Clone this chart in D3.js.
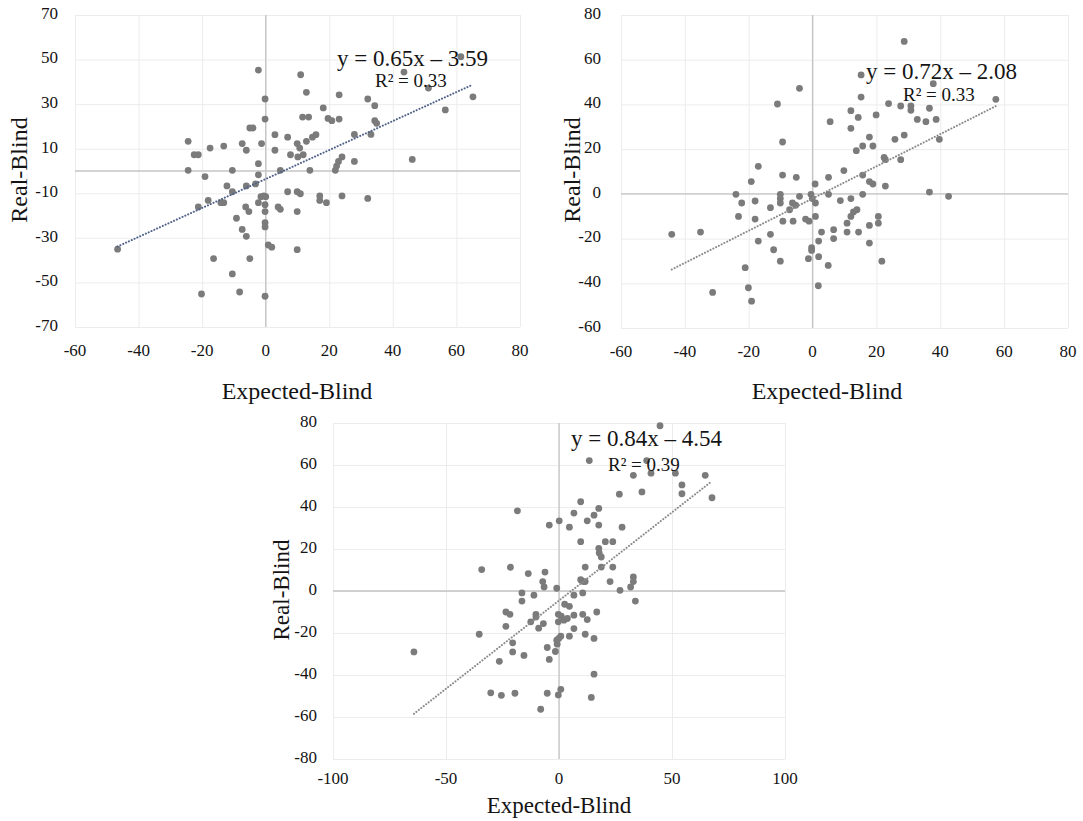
<!DOCTYPE html>
<html>
<head>
<meta charset="utf-8">
<script src="https://cdn.jsdelivr.net/npm/d3@7"></script>
<style>
  body { margin: 0; background: #fff; }
  text { font-family: "Liberation Serif", "Times New Roman", serif; fill: #141414; }
</style>
</head>
<body>
<div id="chart"></div>
<script>
// ---- data ----
// panel 1
const p1x = [-2.3, 11, 12.8, -0.2, 23.1, 18.1, -0.2, 11.6, 13.5, 19.6, 20.8, 23.1, -5, -4, 27.9, 2.9, 6.9, -24.4, -7.4, -1.3,
  -13.2, -17.5, -6.1, 2.9, 12.8, 14.7, 15.8, 9.9, 10.7, -22.5, -21.2, 7.8, 10.1, 11.8, 24, 22.9, 22.3, 27.9, -2.3, -24.4,
  -10.5, 4.6, 13.9, 21.9, -19.1, -2.3, 32.1, 34.3, 43.5, 51.2, 61.4, 56.5, 65.2, 33.1, 34.3, 34.9, 46.1, -12.2, -10.5, -6.1,
  -3.2, -1.5, -0.6, 0, -2.3, -0.2, -0.2, -21.2, -18.1, -14.1, -13.2, -6.3, -5.3, -9.2, -7.4, -6.1, -0.2, -0.2, 0.8, 1.9,
  6.9, 9.9, 10.9, 3.9, 4.6, 9.9, 9.9, 17, 17, 19.1, 24, -16.4, -5, -10.5, -20.2, -8.2, -0.2, -46.6, 32.1];
const p1y = [45.3, 43.2, 35.3, 32.3, 34.2, 28.3, 23.3, 24.2, 24.2, 23.6, 22.6, 23.3, 19.3, 19.3, 16.4, 16.3, 15.2, 13.3, 12.3, 12.3,
  11.2, 10.3, 9.3, 9.3, 13.3, 15.2, 16.3, 12.3, 10.3, 7.3, 7.3, 7.3, 6.3, 7.3, 6.3, 4.3, 2.2, 4.3, 3.3, 0.3,
  0.3, 0.3, 0.3, 0.3, -2.5, -1.7, 32.3, 29.3, 44.4, 37.2, 51.3, 27.4, 33.3, 16.4, 22.6, 21.4, 5.2, -6.7, -9.3, -6.7,
  -5.8, -11.5, -11.2, -11.5, -14.2, -15.1, -18.2, -16.1, -13.2, -14.2, -14.2, -16.1, -18.2, -21.2, -26.2, -29.3, -23.2, -25.1, -33.2, -34.2,
  -9.3, -9.3, -10.2, -16.1, -17.2, -18.2, -35.3, -11.2, -13.2, -14.2, -11.2, -39.3, -39.3, -46.2, -55.2, -54.3, -56.2, -35.1, -12.3];

// panel 2
const p2x = [-4.1, -11, -9.4, -17, -19.2, -9.4, -5.1, 0.8, 5, 9.8, 5.5, 12, 12, 14.3, 13.7, 15.2, 15.2, 28.7, 37.8, 57.4,
  23.8, 27.6, 30.8, 30.8, 36.6, 19.9, 32.8, 35.5, 38.7, 17.8, 15.7, 18.9, 25.8, 28.7, 39.7, 22.4, 22.8, 27.6, 15.7, 17.8,
  18.9, 22.8, -24, -22.2, -18, -23.2, -18, -10.1, -10.1, -10.1, -4.1, -6.3, -5.3, -7.2, -13.2, -9.3, -6.1, -2.2, -1.1, -0.5,
  -0.1, 0.9, 5, 8.7, 12, 0.9, 2.8, 1.9, -0.3, -0.3, -1.3, 1.9, 4.9, 6.6, 6.6, 10.8, 10.8, 12, 12.8, 13.9,
  14.4, -13.2, -17, -12.2, -10.1, -21.1, -20.1, -19.1, -31.3, 1.8, -44.1, -35.1, 36.6, 42.6, 15.7, 20.6, 20.6, 17.8, 21.7, 17.8];
const p2y = [47.2, 40.2, 23.2, 12.3, 5.5, 8.4, 7.4, 4.4, 7.4, 10.4, 32.3, 37.2, 29.3, 34.2, 19.3, 53.2, 43.3, 68.2, 49.3, 42.3,
  40.4, 39.3, 39.3, 37.4, 38.3, 35.3, 33.3, 32.3, 33.3, 25.4, 21.4, 21.4, 24.4, 26.3, 24.4, 16.3, 15.3, 15.3, 8.4, 5.5,
  4.4, 3.5, -0.2, -4.1, -3.2, -10.1, -11.3, -0.2, -2.1, -4.1, -1.1, -4.1, -5.1, -7.1, -6.2, -12.2, -12.2, -11.3, -12.2, -0.2,
  -2.1, -4.1, -0.2, -3, -2.1, -10.1, -17.1, -21.1, -24.1, -25.3, -29, -28.1, -32, -16, -20, -13.1, -17.1, -10.1, -8.1, -7.1,
  -17.1, -18.1, -21.1, -25, -30.1, -33, -42, -48, -44.1, -41.1, -18.1, -17.1, 0.8, -1.1, -0.2, -10.1, -13.1, -14.1, -30.1, -22];

// panel 3
const p3x = [-18.4, -4.3, 0.1, -34.2, -21.5, -13.6, -6.2, -7.2, -6.6, -1, 44.7, 13.4, 38.8, 32.9, 40.7, 51.5, 64.7, 54.4, 54.4, 67.7,
  36.7, 26.7, 9.6, 17.6, 15.5, 12.5, 17.6, 6.6, 4.6, 27.9, 9.6, 20.5, 23.8, 17.6, 17.8, 18.7, 18.7, 23.8, 11.6, 9.6,
  10.8, 11.6, 22.6, 32.9, 32.9, 31.7, 27, -16.4, -16.4, -11.1, -23.5, -21.7, -23.5, -10.2, -10.2, -12.5, -6.9, -9, -0.3, -0.3,
  -35.3, -20.5, -20.5, -15.5, -26.4, -5.2, -4.3, -1, -0.8, -1.6, -64.2, -30.2, -25.5, -19.5, -5.2, -8.1, -0.3, 10.5, 6.6, 33.8,
  2.5, 4.6, 1, 2.2, 3.7, 6.6, 10.5, 12.5, 16.7, 6.6, 4.6, 0.8, -0.1, 11.6, 15.5, 15.5, 0.8, 14.3];
const p3y = [38.2, 31.4, 33.4, 10.2, 11.3, 8.3, 9, 4.5, 1.9, 1.3, 78.7, 62.1, 62.1, 55.1, 56.1, 56.1, 55.1, 50.5, 46.3, 44.4,
  47.2, 46.1, 42.5, 39.3, 36.1, 33.4, 31.4, 37.1, 30.4, 30.4, 23.5, 23.5, 23.5, 20.3, 18.1, 16.2, 11.4, 11.4, 11.4, 5.4,
  4.5, 4.5, 4.5, 6.7, 4.5, 1.9, 0.3, -0.9, -4.8, -2, -10, -11.1, -16.8, -11.1, -12.4, -14.7, -15.5, -17.7, -11.1, -14.7,
  -20.6, -24.7, -29, -30.7, -33.5, -26.9, -32.6, -23.4, -25.3, -28.8, -29, -48.5, -49.7, -48.7, -48.7, -56.3, -49.5, -0.9, -2, -4.8,
  -6.3, -7.3, -12, -13.9, -13.1, -11.5, -11.1, -13.6, -10, -17.9, -21.5, -21.5, -22.6, -20.6, -22.6, -39.6, -46.8, -50.7];

// tick values
const ticks1x = [-60, -40, -20, 0, 20, 40, 60, 80];
const ticks1y = [-70, -50, -30, -10, 10, 30, 50, 70];
const ticks2x = [-60, -40, -20, 0, 20, 40, 60, 80];
const ticks2y = [-60, -40, -20, 0, 20, 40, 60, 80];
const ticks3x = [-100, -50, 0, 50, 100];
const ticks3y = [-80, -60, -40, -20, 0, 20, 40, 60, 80];

// trend lines: slope, intercept, r squared
const fit1 = {m: 0.65, b: -3.59, r2: "0.33"};
const fit2 = {m: 0.72, b: -2.08, r2: "0.33"};
const fit3 = {m: 0.84, b: -4.54, r2: "0.39"};

const svg = d3.select("#chart").append("svg")
    .attr("width", 1083)
    .attr("height", 821);

// panel layout (pixel boxes)
const panels = [
  {xs: p1x, ys: p1y, tx: ticks1x, ty: ticks1y, fit: fit1, lineColor: "#4f6188",
   box: {left: 75, top: 15, right: 520, bottom: 327}, ylabGap: 17, xlabDy: 25, titleSize: 24,
   yTitle: [21, 170], xTitle: [297, 399], eq: [337, 66], r2: [375, 87]},
  {xs: p2x, ys: p2y, tx: ticks2x, ty: ticks2y, fit: fit2, lineColor: "#8a8a8a",
   box: {left: 621, top: 15, right: 1068, bottom: 328}, ylabGap: 20, xlabDy: 25, titleSize: 24,
   yTitle: [574, 170], xTitle: [827, 399], eq: [866, 79], r2: [903, 101]},
  {xs: p3x, ys: p3y, tx: ticks3x, ty: ticks3y, fit: fit3, lineColor: "#8a8a8a",
   box: {left: 333, top: 423, right: 785, bottom: 759}, ylabGap: 16, xlabDy: 21, titleSize: 23,
   yTitle: [284, 590], xTitle: [559, 813], eq: [571, 446], r2: [608, 471]}
];

panels.forEach(function(p) {
  const b = p.box;
  const x = d3.scaleLinear()
      .domain(d3.extent(p.tx))
      .range([b.left, b.right]);
  const y = d3.scaleLinear()
      .domain(d3.extent(p.ty))
      .range([b.bottom, b.top]);
  const g = svg.append("g");

  // light grid
  g.append("g")
      .attr("transform", `translate(0,${b.bottom})`)
      .call(d3.axisBottom(x).tickValues(p.tx).tickSize(-(b.bottom - b.top)).tickFormat(""))
      .call(s => s.select(".domain").remove())
      .selectAll("line").attr("stroke", "#ececec");
  g.append("g")
      .attr("transform", `translate(${b.left},0)`)
      .call(d3.axisLeft(y).tickValues(p.ty).tickSize(-(b.right - b.left)).tickFormat(""))
      .call(s => s.select(".domain").remove())
      .selectAll("line").attr("stroke", "#ececec");

  // zero axes
  g.append("line")
      .attr("x1", x(0)).attr("x2", x(0))
      .attr("y1", b.top).attr("y2", b.bottom)
      .attr("stroke", "#c4c4c4").attr("stroke-width", 1.3);
  g.append("line")
      .attr("x1", b.left).attr("x2", b.right)
      .attr("y1", y(0)).attr("y2", y(0))
      .attr("stroke", "#c4c4c4").attr("stroke-width", 1.3);

  // tick labels
  g.selectAll("text.xt")
    .data(p.tx)
    .enter()
    .append("text")
      .attr("x", d => x(d))
      .attr("y", b.bottom + p.xlabDy)
      .attr("text-anchor", "middle")
      .attr("dominant-baseline", "middle")
      .style("font-size", "17px")
      .text(d => d);
  g.selectAll("text.yt")
    .data(p.ty)
    .enter()
    .append("text")
      .attr("x", b.left - p.ylabGap)
      .attr("y", d => y(d))
      .attr("text-anchor", "end")
      .attr("dominant-baseline", "middle")
      .style("font-size", "17px")
      .text(d => d);

  // axis titles
  g.append("text")
      .attr("transform", `translate(${p.yTitle[0]},${p.yTitle[1]}) rotate(-90)`)
      .attr("text-anchor", "middle")
      .attr("dominant-baseline", "middle")
      .style("font-size", p.titleSize + "px")
      .text("Real-Blind");
  g.append("text")
      .attr("x", p.xTitle[0])
      .attr("y", p.xTitle[1])
      .attr("text-anchor", "middle")
      .style("font-size", p.titleSize + "px")
      .text("Expected-Blind");

  // points
  const pts = p.xs.map((v, i) => [v, p.ys[i]]);
  g.selectAll("circle")
    .data(pts)
    .enter()
    .append("circle")
      .attr("cx", d => x(d[0]))
      .attr("cy", d => y(d[1]))
      .attr("r", 3.4)
      .attr("fill", "#7b7b7b");

  // trend line over data range
  const [x0, x1] = d3.extent(p.xs);
  g.append("line")
      .attr("x1", x(x0)).attr("y1", y(p.fit.m * x0 + p.fit.b))
      .attr("x2", x(x1)).attr("y2", y(p.fit.m * x1 + p.fit.b))
      .attr("stroke", p.lineColor)
      .attr("stroke-width", 2)
      .attr("stroke-linecap", "round")
      .attr("stroke-dasharray", "0.1,3");

  // equation labels
  g.append("text")
      .attr("x", p.eq[0])
      .attr("y", p.eq[1])
      .style("font-size", "23px")
      .text(`y = ${p.fit.m.toFixed(2)}x – ${Math.abs(p.fit.b).toFixed(2)}`);
  g.append("text")
      .attr("x", p.r2[0])
      .attr("y", p.r2[1])
      .style("font-size", "19px")
      .text(`R² = ${p.fit.r2}`);
});
</script>
</body>
</html>
